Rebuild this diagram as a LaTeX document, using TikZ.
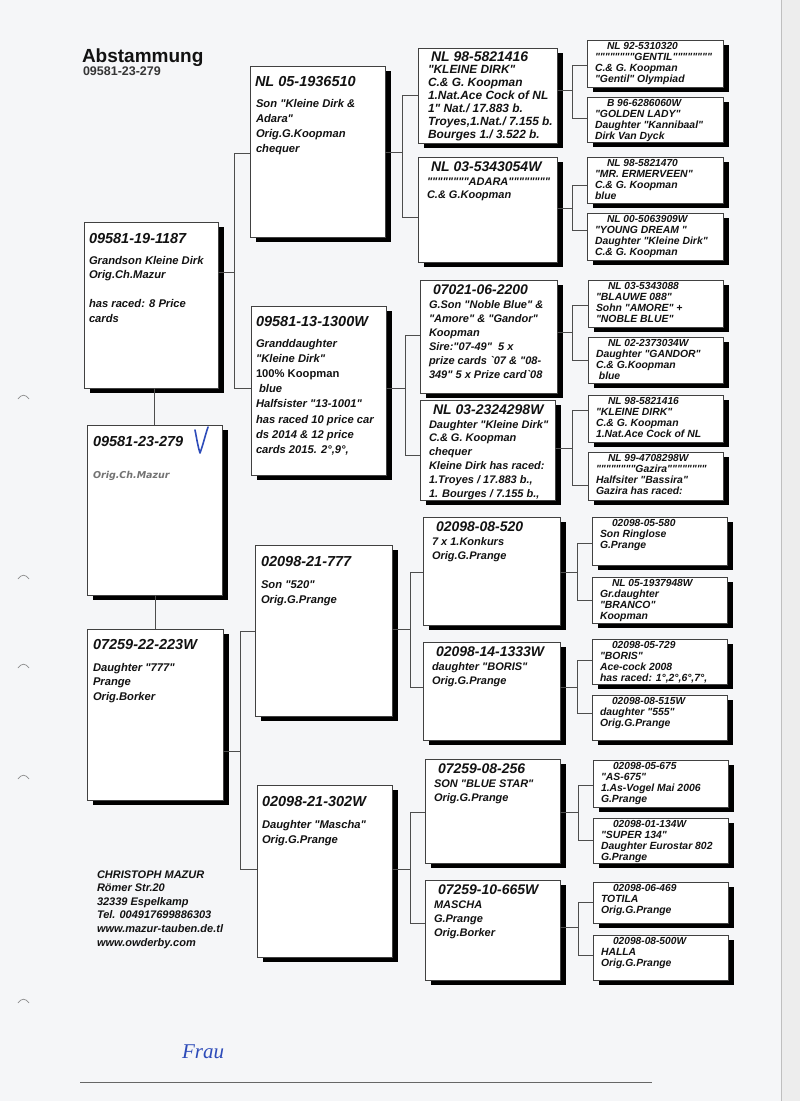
\documentclass[tikz,border=0pt]{standalone}
\usepackage{fontspec}
\setmainfont{Liberation Sans}[Ligatures=TeXOff]
\newfontfamily\dejavu{DejaVu Sans}
\newfontfamily\handfont{Liberation Serif}
\usetikzlibrary{shadows}
\definecolor{paper}{RGB}{245,246,248}
\definecolor{ink}{RGB}{18,18,18}
\definecolor{pen}{RGB}{45,75,185}
\newcommand\fsz[2]{\fontsize{#1}{#2}\selectfont}
\newcommand\fTitle{\bfseries\fsz{19}{21}}
\newcommand\fRing{\bfseries\fsz{12.5}{14}}
\newcommand\fH{\bfseries\itshape\fsz{14.5}{16}}
\newcommand\fB{\bfseries\itshape\fsz{11.2}{13}}
\newcommand\fG{\bfseries\itshape\fsz{14}{16}}
\newcommand\fC{\bfseries\itshape\fsz{11}{13}}
\newcommand\fCb{\bfseries\itshape\fsz{11.9}{13}}
\newcommand\fJ{\bfseries\itshape\fsz{10.2}{12}}
\newcommand\fK{\bfseries\itshape\fsz{10.4}{12}}
\newcommand\fF{\bfseries\itshape\fsz{11}{13}}
\tikzset{
  pbx/.style={draw=ink!80, fill=white, line width=0.7pt, inner sep=0pt, outer sep=0pt, anchor=north west,
    drop shadow={shadow xshift=6pt, shadow yshift=-5pt, fill=black, opacity=1}},
  tl/.style={anchor=base west, inner sep=0pt, outer sep=0pt, text=ink},
  con/.style={draw=ink!75, line width=0.7pt},
}
\newcommand\pbox[5]{\node[pbx, minimum width={#4-#2}, minimum height={#5-#3}] (#1) at (#2,#3) {};}
\newcommand\bd[6]{\foreach \bdt [count=\bdi] in {#6} {\node[tl, font=#5] (#1-\bdi) at ({#2},{#3+(\bdi-1)*#4}) {\bdt};}}
\newcommand\gthree[8]{\pbox{#1}{#2}{#3}{#4}{#5}%
  \node[tl, font=\fG] (#1-h) at ({#2+13},{#3+14}) {#6};%
  \bd{#1}{#2+9}{#3+28}{#7}{\fC}{#8}}
\newcommand\gfour[7]{\pbox{#1}{#2}{#3}{#4}{#5}%
  \node[tl, font=\fJ] (#1-h) at ({#2+20},{#3+9.8}) {#6};%
  \bd{#1}{#2+8}{#3+20.8}{10.8}{\fK}{#7}}
\newcommand\fork[7]{%
  \draw[con] (#1.east |- 0,#2) -- (#3,#2);
  \draw[con] (#4.west |- 0,#5) -| (#3,#7) -- (#6.west |- 0,#7);}
\begin{document}
\begin{tikzpicture}[x=1pt,y=-1pt]
\useasboundingbox (0,0) rectangle (800,1101);
\fill[paper] (0,0) rectangle (800,1101);
\fill[black!7] (781,0) rectangle (800,1101);
\draw[black!25, line width=0.6pt] (781,0) -- (781,1101);
% punch marks
\foreach \py in {396,576,665,776,1000}
  \draw[black!45, line width=0.7pt] (18,\py+3) .. controls (21,\py-2) and (26,\py-2) .. (29,\py+3);
% title
\node[tl, font=\fTitle] (title) at (82,62) {Abstammung};
\node[tl, font=\fRing, text=ink!85] (ring) at (83,75) {09581-23-279};
% generation 1
\pbox{S}{84}{222}{218}{388}
\node[tl, font=\fH] (S-h) at (89,243) {09581-19-1187};
\bd{S}{89}{264}{14.5}{\fB}{Grandson Kleine Dirk, Orig.Ch.Mazur, {}, has raced: 8 Price, cards}
\pbox{P}{87}{425}{222}{595}
\node[tl, font=\fH] (P-h) at (93,446) {09581-23-279};
\node[tl, font=\dejavu\bfseries\itshape\fsz{9.5}{11}, text=black!55] (P-1) at (93,478) {Orig.Ch.Mazur};
\pbox{D}{87}{629}{223}{800}
\node[tl, font=\fH] (D-h) at (93,649) {07259-22-223W};
\bd{D}{93}{671}{14.5}{\fB}{Daughter "777", Prange, Orig.Borker}
% generation 2
\pbox{C1}{250}{66}{385}{237}
\node[tl, font=\fH] (C1-h) at (255,86) {NL 05-1936510};
\bd{C1}{256}{107}{15}{\fB}{Son "Kleine Dirk \&, Adara", Orig.G.Koopman, chequer}
\pbox{C2}{251}{306}{386}{475}
\node[tl, font=\fH] (C2-h) at (256,326) {09581-13-1300W};
\bd{C2}{256}{347}{15.2}{\fB}{Granddaughter, "Kleine Dirk", \upshape 100\% Koopman, \ blue, Halfsister "13-1001", has raced 10 price car, ds 2014 \& 12 price, {cards 2015. 2°,9°,}}
\pbox{C3}{255}{545}{392}{716}
\node[tl, font=\fH] (C3-h) at (261,566) {02098-21-777};
\bd{C3}{261}{588}{15}{\fB}{Son "520", Orig.G.Prange}
\pbox{C4}{257}{785}{392}{957}
\node[tl, font=\fH] (C4-h) at (262,806) {02098-21-302W};
\bd{C4}{262}{828}{15}{\fB}{Daughter "Mascha", Orig.G.Prange}
% generation 3
\pbox{B1}{418}{48}{557}{143}
\node[tl, font=\fG] (B1-h) at (431,61) {NL 98-5821416};
\bd{B1}{428}{73}{13}{\fCb}{"KLEINE DIRK", C.\& G. Koopman, 1.Nat.Ace Cock of NL, 1" Nat./ 17.883 b., {Troyes,1.Nat./ 7.155 b.}, Bourges 1./ 3.522 b.}
\gthree{B2}{418}{157}{557}{262}{NL 03-5343054W}{13}{""""""""ADARA"""""""", C.\& G.Koopman}
\gthree{B3}{420}{280}{557}{393}{07021-06-2200}{14}{G.Son "Noble Blue" \&, "Amore" \& "Gandor", Koopman, Sire:"07-49"\ \ 5 x, prize cards `07 \& "08-, 349" 5 x Prize card`08}
\gthree{B4}{420}{400}{555}{500}{NL 03-2324298W}{13.8}{Daughter "Kleine Dirk", C.\& G. Koopman, chequer, Kleine Dirk has raced:, {1.Troyes / 17.883 b.,}, {1. Bourges / 7.155 b.,}}
\gthree{B5}{423}{517}{560}{625}{02098-08-520}{14}{7 x 1.Konkurs, Orig.G.Prange}
\gthree{B6}{423}{642}{560}{740}{02098-14-1333W}{14}{daughter "BORIS", Orig.G.Prange}
\gthree{B7}{425}{759}{560}{863}{07259-08-256}{14}{SON "BLUE STAR", Orig.G.Prange}
\gthree{B8}{425}{880}{560}{980}{07259-10-665W}{14}{MASCHA, G.Prange, Orig.Borker}
% generation 4
\gfour{A1}{587}{40}{723}{87}{NL 92-5310320}{""""""""GENTIL"""""""", C.\& G. Koopman, "Gentil" Olympiad}
\gfour{A2}{587}{97}{723}{142}{B 96-6286060W}{"GOLDEN LADY", Daughter "Kannibaal", Dirk Van Dyck}
\gfour{A3}{587}{157}{723}{203}{NL 98-5821470}{"MR. ERMERVEEN", C.\& G. Koopman, blue}
\gfour{A4}{587}{213}{723}{260}{NL 00-5063909W}{"YOUNG DREAM ", Daughter "Kleine Dirk", C.\& G. Koopman}
\gfour{A5}{588}{280}{723}{327}{NL 03-5343088}{"BLAUWE 088", Sohn "AMORE" +, "NOBLE BLUE"}
\gfour{A6}{588}{337}{723}{383}{NL 02-2373034W}{Daughter "GANDOR", C.\& G.Koopman, \ blue}
\gfour{A7}{588}{395}{723}{442}{NL 98-5821416}{"KLEINE DIRK", C.\& G. Koopman, 1.Nat.Ace Cock of NL}
\gfour{A8}{588}{452}{723}{500}{NL 99-4708298W}{""""""""Gazira"""""""", Halfsiter "Bassira", Gazira has raced:}
\gfour{A9}{592}{517}{727}{565}{02098-05-580}{Son Ringlose, G.Prange}
\gfour{A10}{592}{577}{727}{623}{NL 05-1937948W}{Gr.daughter, "BRANCO", Koopman}
\gfour{A11}{592}{639}{727}{684}{02098-05-729}{"BORIS", Ace-cock 2008, {has raced: 1°,2°,6°,7°,}}
\gfour{A12}{592}{695}{727}{740}{02098-08-515W}{daughter "555", Orig.G.Prange}
\gfour{A13}{593}{760}{728}{807}{02098-05-675}{"AS-675", 1.As-Vogel Mai 2006, G.Prange}
\gfour{A14}{593}{818}{728}{863}{02098-01-134W}{"SUPER 134", Daughter Eurostar 802, G.Prange}
\gfour{A15}{593}{882}{728}{923}{02098-06-469}{TOTILA, Orig.G.Prange}
\gfour{A16}{593}{935}{728}{980}{02098-08-500W}{HALLA, Orig.G.Prange}
% connectors
\draw[con] (P.north) -- (P.north |- S.south);
\draw[con] (D.north) -- (D.north |- P.south);
\fork{S}{272}{234}{C1}{153}{C2}{388}
\fork{D}{751}{240}{C3}{631}{C4}{869}
\fork{C1}{152}{402}{B1}{95}{B2}{217}
\fork{C2}{388}{405}{B3}{335}{B4}{455}
\fork{C3}{629}{410}{B5}{572}{B6}{687}
\fork{C4}{869}{410}{B7}{812}{B8}{923}
\fork{B1}{90}{572}{A1}{65}{A2}{118}
\fork{B2}{208}{572}{A3}{185}{A4}{230}
\fork{B3}{332}{572}{A5}{305}{A6}{360}
\fork{B4}{448}{572}{A7}{410}{A8}{485}
\fork{B5}{572}{577}{A9}{543}{A10}{600}
\fork{B6}{687}{577}{A11}{660}{A12}{713}
\fork{B7}{812}{578}{A13}{785}{A14}{840}
\fork{B8}{927}{578}{A15}{902}{A16}{955}
% check mark
\draw[pen, line width=1.6pt, line cap=round, line join=round] (195,430) .. controls (197,440) and (198,447) .. (200,453) .. controls (203,445) and (205,436) .. (208,427);
% footer
\bd{F}{97}{878}{13.6}{\fF}{CHRISTOPH MAZUR, Römer Str.20, 32339 Espelkamp, Tel. 004917699886303, www.mazur-tauben.de.tl, www.owderby.com}
\node[tl, font=\handfont\itshape\fsz{21}{22}, text=pen] (frau) at (182,1058) {Frau};
\draw[black!60, line width=0.8pt] (80,1082) -- (652,1082);
\end{tikzpicture}
\end{document}
